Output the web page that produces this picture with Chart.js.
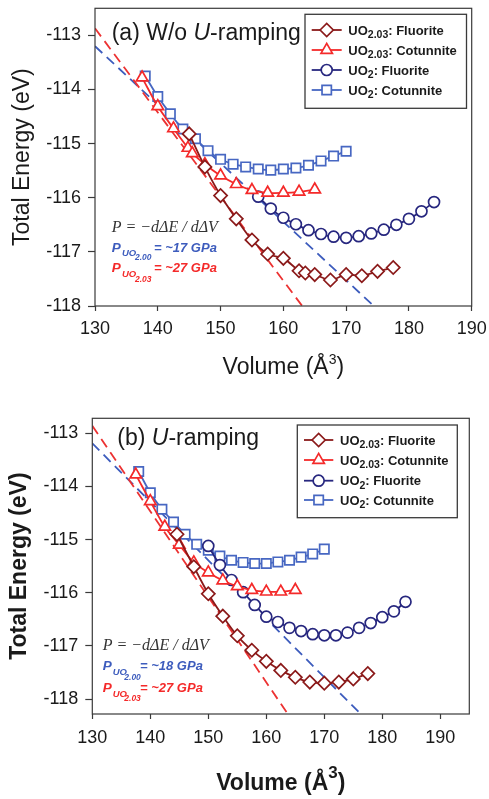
<!DOCTYPE html>
<html>
<head>
<meta charset="utf-8">
<script src="https://cdn.jsdelivr.net/npm/chart.js@4.4.1/dist/chart.umd.min.js"></script>
<style>
  html, body { margin: 0; padding: 0; background: #fff; }
  body { width: 489px; height: 799px; position: relative; overflow: hidden; }
  .panel { position: absolute; left: 0; width: 489px; }
  #wrapA { top: 0; height: 400px; }
  #wrapB { top: 410px; height: 389px; }
</style>
</head>
<body>
<div class="panel" id="wrapA"><canvas id="chartA" width="489" height="400"></canvas></div>
<div class="panel" id="wrapB"><canvas id="chartB" width="489" height="389"></canvas></div>
<script>
// ---------- shared axis ticks ----------
const energyTicks = [-118, -117, -116, -115, -114, -113];
const volumeTicks = [130, 140, 150, 160, 170, 180, 190];

// ---------- legend text ----------
const seriesFormulaSub = ['2.03', '2.03', '2', '2'];
const seriesPhase = ['Fluorite', 'Cotunnite', 'Fluorite', 'Cotunnite'];

// ---------- panel (a): without U-ramping ----------
const a_fluo203_V = [145, 147.5, 150, 152.5, 155, 157.5, 160, 162.5, 163.5, 165, 167.5, 170, 172.5, 175, 177.5];
const a_fluo203_E = [-114.82, -115.43, -115.96, -116.39, -116.78, -117.04, -117.12, -117.35, -117.39, -117.42, -117.52, -117.42, -117.44, -117.36, -117.29];

const a_cot203_V = [137.5, 140, 142.5, 144.8, 145.5, 147.5, 150, 152.5, 155, 157.5, 160, 162.5, 165];
const a_cot203_E = [-113.78, -114.31, -114.72, -115.08, -115.18, -115.38, -115.59, -115.75, -115.86, -115.91, -115.91, -115.89, -115.85];

const a_fluo2_V = [156, 158, 160, 162, 164, 166, 168, 170, 172, 174, 176, 178, 180, 182, 184];
const a_fluo2_E = [-115.98, -116.20, -116.37, -116.49, -116.60, -116.67, -116.72, -116.74, -116.71, -116.66, -116.59, -116.50, -116.39, -116.25, -116.08];

const a_cot2_V = [138, 140, 142, 144, 146, 148, 150, 152, 154, 156, 158, 160, 162, 164, 166, 168, 170];
const a_cot2_E = [-113.75, -114.13, -114.45, -114.73, -114.91, -115.13, -115.29, -115.38, -115.43, -115.47, -115.49, -115.47, -115.45, -115.40, -115.32, -115.23, -115.14];

// tangent (pressure) lines, end points
const a_tan203_V = [130, 163];
const a_tan203_E = [-112.87, -118.0];
const a_tan2_V = [130, 174.4];
const a_tan2_E = [-113.20, -118.0];

// ---------- panel (b): U-ramping ----------
const b_fluo203_V = [144.6, 147.5, 150, 152.5, 155, 157.5, 160, 162.5, 165, 167.5, 170, 172.5, 175, 177.5];
const b_fluo203_E = [-114.90, -115.51, -116.02, -116.44, -116.81, -117.08, -117.29, -117.46, -117.59, -117.68, -117.70, -117.68, -117.62, -117.52];

const b_cot203_V = [137.5, 140, 142.5, 145, 147.5, 150, 152.5, 155, 157.5, 160, 162.5, 165];
const b_cot203_E = [-113.78, -114.28, -114.76, -115.10, -115.43, -115.62, -115.77, -115.88, -115.95, -115.98, -115.98, -115.95];

const b_fluo2_V = [150, 152, 154, 156, 158, 160, 162, 164, 166, 168, 170, 172, 174, 176, 178, 180, 182, 184];
const b_fluo2_E = [-115.12, -115.48, -115.76, -115.99, -116.23, -116.45, -116.55, -116.66, -116.72, -116.78, -116.80, -116.80, -116.75, -116.66, -116.57, -116.46, -116.35, -116.17];

const b_cot2_V = [138, 140, 142, 144, 146, 148, 150, 152, 154, 156, 158, 160, 162, 164, 166, 168, 170];
const b_cot2_E = [-113.72, -114.12, -114.43, -114.67, -114.90, -115.09, -115.20, -115.31, -115.39, -115.43, -115.45, -115.45, -115.42, -115.39, -115.33, -115.27, -115.18];

const b_tan203_V = [130, 163.7];
const b_tan203_E = [-112.86, -118.28];
const b_tan2_V = [130, 176];
const b_tan2_E = [-113.19, -118.25];

// ---------- styling ----------
const SANS = "'Liberation Sans', Arial, Helvetica, sans-serif";
const SERIF = "'Liberation Serif', 'Times New Roman', serif";
const INK = '#1a1a1a';
const FRAME = '#3a3a3a';

const STYLE = {
  fluo203: { color: '#8b1a1a', point: 'rectRot', r: 6.6 },
  cot203:  { color: '#f42a2a', point: 'triangle', r: 6.6 },
  fluo2:   { color: '#27277f', point: 'circle', r: 5.5 },
  cot2:    { color: '#4767c2', point: 'rect', r: 6.6 },
  tan203:  { color: '#ec3232' },
  tan2:    { color: '#3d5cbd' }
};

function pts(V, E) { return V.map((v, i) => ({ x: v, y: E[i] })); }

function markerSet(label, V, E, st) {
  return {
    label, data: pts(V, E),
    borderColor: st.color, borderWidth: 1.8, tension: 0.32,
    pointStyle: st.point, pointRadius: st.r,
    pointBorderColor: st.color, pointBorderWidth: 1.7,
    pointBackgroundColor: '#ffffff'
  };
}
function dashedSet(label, V, E, st) {
  return {
    label, data: pts(V, E),
    borderColor: st.color, borderWidth: 1.8, borderDash: [10, 6],
    pointRadius: 0, tension: 0
  };
}

// draw styled text runs; a run without x continues where the previous one ended
function drawRuns(ctx, runs) {
  ctx.save();
  ctx.textBaseline = 'alphabetic';
  ctx.textAlign = 'left';
  let cx = 0;
  for (const r of runs) {
    ctx.font = r.font;
    ctx.fillStyle = r.color || INK;
    const x = (r.x !== undefined) ? r.x : cx;
    ctx.fillText(r.t, x, r.y);
    cx = x + ctx.measureText(r.t).width;
  }
  ctx.restore();
}

// "Volume (Å³)" with a real raised 3, centred under the plot area
function drawVolumeTitle(chart, g) {
  const ctx = chart.ctx;
  const a = chart.chartArea;
  const w = g.boldTitles ? 'bold ' : '';
  const main = w + '23px ' + SANS;
  const sup = w + g.supSize + 'px ' + SANS;
  ctx.save();
  ctx.fillStyle = INK;
  ctx.textBaseline = 'alphabetic';
  ctx.textAlign = 'left';
  ctx.font = main;
  const w1 = ctx.measureText('Volume (Å').width;
  const w3 = ctx.measureText(')').width;
  ctx.font = sup;
  const w2 = ctx.measureText('3').width;
  let x = (a.left + a.right) / 2 - (w1 + w2 + w3) / 2;
  ctx.font = main;
  ctx.fillText('Volume (Å', x, g.xTitleBase);
  x += w1;
  ctx.font = sup;
  ctx.fillText('3', x, g.xTitleBase - g.supRise);
  x += w2;
  ctx.font = main;
  ctx.fillText(')', x, g.xTitleBase);
  ctx.restore();
}

function makeChart(id, g, sets) {
  const framePlugin = {
    id: 'frame' + id,
    afterDraw(chart) {
      const { ctx, chartArea: a } = chart;
      ctx.save();
      ctx.strokeStyle = FRAME;
      ctx.lineWidth = 1.2;
      ctx.strokeRect(a.left, a.top, a.right - a.left, a.bottom - a.top);
      ctx.restore();
    }
  };

  const legendPlugin = {
    id: 'keybox' + id,
    afterDraw(chart) {
      const ctx = chart.ctx;
      const L = g.legend;
      ctx.save();
      ctx.fillStyle = '#fff';
      ctx.fillRect(L.x, L.y, L.w, L.h);
      ctx.strokeStyle = FRAME;
      ctx.lineWidth = 1.3;
      ctx.strokeRect(L.x, L.y, L.w, L.h);
      for (let i = 0; i < 4; i++) {
        const ds = chart.data.datasets[i];
        const y = L.rows[i];
        ctx.strokeStyle = ds.borderColor;
        ctx.lineWidth = ds.borderWidth;
        ctx.beginPath();
        ctx.moveTo(L.s0, y);
        ctx.lineTo(L.s1, y);
        ctx.stroke();
        ctx.fillStyle = '#fff';
        ctx.strokeStyle = ds.pointBorderColor;
        ctx.lineWidth = ds.pointBorderWidth;
        Chart.helpers.drawPoint(ctx, { pointStyle: ds.pointStyle, radius: ds.pointRadius, rotation: 0, borderWidth: ds.pointBorderWidth }, (L.s0 + L.s1) / 2, y);
        // label: UO + subscript + ": phase"
        ctx.fillStyle = INK;
        ctx.textBaseline = 'alphabetic';
        ctx.textAlign = 'left';
        let x = L.tx;
        const base = y + 4.6;
        ctx.font = 'bold 13px ' + SANS;
        ctx.fillText('UO', x, base);
        x += ctx.measureText('UO').width;
        ctx.font = 'bold 10.5px ' + SANS;
        ctx.fillText(seriesFormulaSub[i], x, base + 3.4);
        x += ctx.measureText(seriesFormulaSub[i]).width;
        ctx.font = 'bold 13px ' + SANS;
        ctx.fillText(': ' + seriesPhase[i], x, base);
      }
      ctx.restore();
    }
  };

  const notePlugin = {
    id: 'notes' + id,
    afterDraw(chart) {
      drawRuns(chart.ctx, g.notes);
      drawVolumeTitle(chart, g);
    }
  };

  const titleWeight = g.boldTitles ? 'bold' : 'normal';

  return new Chart(document.getElementById(id), {
    type: 'line',
    data: { datasets: sets },
    plugins: [framePlugin, legendPlugin, notePlugin],
    options: {
      responsive: false,
      animation: false,
      events: [],
      layout: { padding: { left: 0, top: g.padTop, right: g.padRight, bottom: 0 } },
      plugins: { legend: { display: false }, tooltip: { enabled: false } },
      scales: {
        x: {
          type: 'linear', min: 130, max: g.xMax,
          afterBuildTicks(s) { s.ticks = volumeTicks.map(v => ({ value: v })); },
          afterFit(s) { s.height = g.xAxisH; s.paddingLeft = 0; s.paddingRight = 0; },
          grid: { display: true, drawOnChartArea: false, drawTicks: true, tickLength: 5, tickColor: FRAME, tickWidth: 1.2 },
          border: { display: false },
          ticks: { font: { family: SANS, size: 18 }, color: INK, padding: g.xTickPad, maxRotation: 0, autoSkip: false, callback: v => String(v) },
          title: { display: false }
        },
        y: {
          type: 'linear', min: g.yMin, max: g.yMax,
          afterBuildTicks(s) { s.ticks = energyTicks.map(v => ({ value: v })); },
          afterFit(s) { s.width = g.yAxisW; s.paddingTop = 0; s.paddingBottom = 0; },
          grid: { display: true, drawOnChartArea: false, drawTicks: true, tickLength: 7, tickColor: FRAME, tickWidth: 1.2 },
          border: { display: false },
          ticks: { font: { family: SANS, size: 18 }, color: INK, padding: 7, autoSkip: false, callback: v => String(v) },
          title: { display: true, text: 'Total Energy (eV)', color: INK, font: { family: SANS, size: 23, weight: titleWeight }, padding: { top: g.yTitlePad, bottom: 0 } }
        }
      }
    }
  });
}

// ---------- panel (a) ----------
const BLUE_TXT = '#3d5cbd', RED_TXT = '#f42a2a', FORM_TXT = '#333333';
const bi = (s) => 'italic bold ' + s + 'px ' + SANS;

makeChart('chartA', {
  xMax: 190, yMin: -118, yMax: -112.5,
  padTop: 5, padRight: 17.3, xAxisH: 94, yAxisW: 95,
  xTickPad: 7, yTitlePad: 9.2, boldTitles: false,
  xTitleBase: 373.5, supSize: 14, supRise: 9.5,
  legend: { x: 305, y: 14.3, w: 161.5, h: 94, rows: [30, 50, 70, 90], s0: 311.7, s1: 341.7, tx: 348.3 },
  notes: [
    { t: '(a) W/o ', x: 111.7, y: 39.5, font: '23px ' + SANS },
    { t: 'U', y: 39.5, font: 'italic 23px ' + SANS },
    { t: '-ramping', y: 39.5, font: '23px ' + SANS },
    { t: 'P = −dΔE / dΔV', x: 111.7, y: 231.5, font: 'italic 16px ' + SERIF, color: FORM_TXT },
    { t: 'P', x: 111.7, y: 251.7, font: bi(13.5), color: BLUE_TXT },
    { t: 'UO', x: 122, y: 256, font: bi(9.5), color: BLUE_TXT },
    { t: '2.00', x: 135, y: 260, font: bi(8.5), color: BLUE_TXT },
    { t: '= ~17 GPa', x: 154, y: 251.7, font: bi(13), color: BLUE_TXT },
    { t: 'P', x: 111.7, y: 272.3, font: bi(13.5), color: RED_TXT },
    { t: 'UO', x: 122, y: 276.7, font: bi(9.5), color: RED_TXT },
    { t: '2.03', x: 135, y: 281.5, font: bi(8.5), color: RED_TXT },
    { t: '= ~27 GPa', x: 154, y: 272.3, font: bi(13), color: RED_TXT }
  ]
}, [
  markerSet('UO2.03: Fluorite', a_fluo203_V, a_fluo203_E, STYLE.fluo203),
  markerSet('UO2.03: Cotunnite', a_cot203_V, a_cot203_E, STYLE.cot203),
  markerSet('UO2: Fluorite', a_fluo2_V, a_fluo2_E, STYLE.fluo2),
  markerSet('UO2: Cotunnite', a_cot2_V, a_cot2_E, STYLE.cot2),
  dashedSet('P (UO2.03)', a_tan203_V, a_tan203_E, STYLE.tan203),
  dashedSet('P (UO2.00)', a_tan2_V, a_tan2_E, STYLE.tan2)
]);

// ---------- panel (b) ----------
makeChart('chartB', {
  xMax: 195, yMin: -118.28, yMax: -112.72,
  padTop: 4.7, padRight: 19.7, xAxisH: 85, yAxisW: 92.3,
  xTickPad: 8, yTitlePad: 6.2, boldTitles: true,
  xTitleBase: 380, supSize: 17, supRise: 12,
  legend: { x: 297.3, y: 15, w: 160, h: 92.7, rows: [30, 50, 70.7, 90], s0: 304, s1: 333.3, tx: 340 },
  notes: [
    { t: '(b) ', x: 117.3, y: 34.5, font: '23px ' + SANS },
    { t: 'U', y: 34.5, font: 'italic 23px ' + SANS },
    { t: '-ramping', y: 34.5, font: '23px ' + SANS },
    { t: 'P = −dΔE / dΔV', x: 102.7, y: 239.5, font: 'italic 16px ' + SERIF, color: FORM_TXT },
    { t: 'P', x: 102.7, y: 260, font: bi(13.5), color: BLUE_TXT },
    { t: 'UO', x: 112.7, y: 265, font: bi(9.5), color: BLUE_TXT },
    { t: '2.00', x: 124.3, y: 270, font: bi(8.5), color: BLUE_TXT },
    { t: '= ~18 GPa', x: 140, y: 260, font: bi(13), color: BLUE_TXT },
    { t: 'P', x: 102.7, y: 281.5, font: bi(13.5), color: RED_TXT },
    { t: 'UO', x: 112.7, y: 286.5, font: bi(9.5), color: RED_TXT },
    { t: '2.03', x: 124.3, y: 291, font: bi(8.5), color: RED_TXT },
    { t: '= ~27 GPa', x: 140, y: 281.5, font: bi(13), color: RED_TXT }
  ]
}, [
  markerSet('UO2.03: Fluorite', b_fluo203_V, b_fluo203_E, STYLE.fluo203),
  markerSet('UO2.03: Cotunnite', b_cot203_V, b_cot203_E, STYLE.cot203),
  markerSet('UO2: Fluorite', b_fluo2_V, b_fluo2_E, STYLE.fluo2),
  markerSet('UO2: Cotunnite', b_cot2_V, b_cot2_E, STYLE.cot2),
  dashedSet('P (UO2.03)', b_tan203_V, b_tan203_E, STYLE.tan203),
  dashedSet('P (UO2.00)', b_tan2_V, b_tan2_E, STYLE.tan2)
]);
</script>
</body>
</html>
